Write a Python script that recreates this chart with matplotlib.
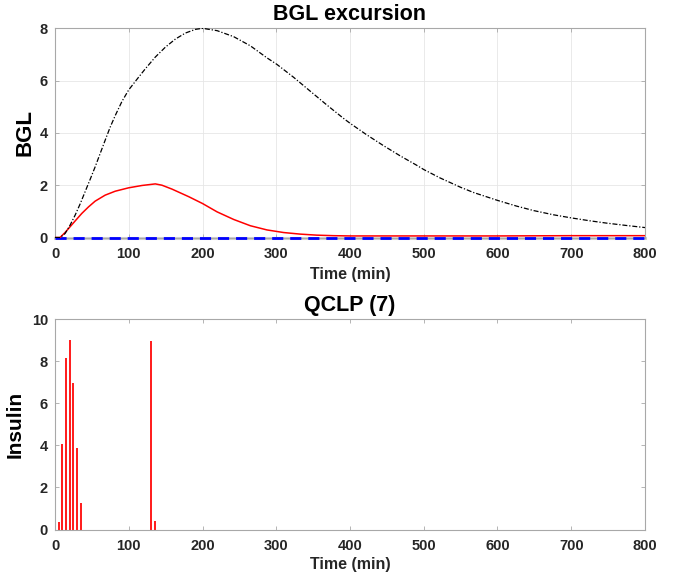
import matplotlib
matplotlib.use("Agg")
import matplotlib.pyplot as plt

# ---- data ----
t_black = [0, 6.8, 13.6, 20.4, 27.2, 34, 40.8, 44.4, 47.6, 54.4, 61.2, 68, 74.8,
           81.6, 90.7, 99.8, 112.5, 122.4, 136, 149.7, 163.3, 176.9, 190.5, 200,
           219.8, 242.3, 264.9, 287.4, 300.9, 323.4, 345.9, 368.5, 391, 400, 422.5,
           445, 467.6, 490, 500, 522, 550, 567.6, 600, 626, 649, 675.7, 700, 725, 748,
           774.8, 800]
bgl_black = [0.0, 0.0, 0.15, 0.47, 0.85, 1.28, 1.75, 2.0, 2.22, 2.70, 3.21, 3.72, 4.22,
             4.66, 5.20, 5.64, 6.10, 6.45, 6.90, 7.28, 7.59, 7.82, 7.96, 8.0,
             7.91, 7.68, 7.33, 6.87, 6.62, 6.13, 5.60, 5.07, 4.56, 4.37, 3.93,
             3.52, 3.13, 2.77, 2.60, 2.28, 1.92, 1.72, 1.42, 1.20, 1.03, 0.87, 0.75, 0.64,
             0.55, 0.46, 0.38]

t_red = [0, 6.8, 13.6, 20.4, 27.2, 36.3, 45.4, 54.4, 68, 81.6, 99.8, 118, 136, 145,
         158.7, 181.4, 200, 219.8, 242.3, 264.9, 287.4, 310, 332.4, 355, 377.5, 400,
         500, 600, 700, 800]
bgl_red = [0.0, 0.0, 0.19, 0.41, 0.63, 0.92, 1.17, 1.39, 1.62, 1.77, 1.90, 1.99, 2.05,
           2.00, 1.85, 1.56, 1.30, 0.98, 0.69, 0.45, 0.29, 0.19, 0.13, 0.09, 0.07, 0.06,
           0.06, 0.06, 0.07, 0.07]

t_target = [0, 800]
bgl_target = [0, 0]

t_insulin = [5, 10, 15, 20, 25, 30, 35, 130, 135]
insulin = [0.37, 4.05, 8.14, 9.01, 6.98, 3.90, 1.27, 8.98, 0.40]

xticks = [0, 100, 200, 300, 400, 500, 600, 700, 800]
yticks_top = [0, 2, 4, 6, 8]
yticks_bot = [0, 2, 4, 6, 8, 10]

# ---- style ----
plt.rcParams['font.family'] = ['Liberation Sans', 'DejaVu Sans']
plt.rcParams['font.weight'] = 'bold'
spine_col = '#a8a8a8'
tick_col = '#262626'

fig = plt.figure(figsize=(6.8, 5.73), dpi=100)
ax1 = fig.add_axes([0.0809, 0.5855, 0.8676, 0.3651])
ax2 = fig.add_axes([0.0809, 0.0759, 0.8676, 0.3669])


def style(ax, yt, ylim, grid):
    ax.set_xlim(0, 800)
    ax.set_ylim(*ylim)
    ax.set_xticks(xticks)
    ax.set_yticks(yt)
    ax.tick_params(direction='in', top=True, right=True, length=3, width=0.6,
                   color=spine_col, labelcolor=tick_col, labelsize=10.5)
    ax.tick_params(axis='x', pad=7)
    ax.tick_params(axis='y', pad=5)
    for lab in ax.get_xticklabels() + ax.get_yticklabels():
        lab.set_fontweight('bold')
    for s in ax.spines.values():
        s.set_color(spine_col)
        s.set_linewidth(0.8)
    if grid:
        ax.grid(True, color='#e6e6e6', linewidth=0.6)
        ax.set_axisbelow(True)


# Top panel
style(ax1, yticks_top, (0, 8), True)
ax1.plot(t_target, bgl_target, color='#d0d0d0', lw=2.2, zorder=2, clip_on=False)
ax1.plot(t_target, bgl_target, color='#0000ff', lw=2.0, ls=(0, (4, 2.5)), zorder=3,
         clip_on=False)
ax1.plot(t_red, bgl_red, color='red', lw=1.1, zorder=4)
ax1.plot(t_black, bgl_black, color='black', lw=0.9, ls=(0, (4, 1.5, 1, 1.5)), zorder=5)
ax1.set_title('BGL excursion', fontsize=15.5, fontweight='bold', pad=6)
ax1.set_ylabel('BGL', fontsize=16, fontweight='bold', labelpad=3)
ax1.set_xlabel('Time (min)', fontsize=11.5, fontweight='bold', color=tick_col, labelpad=4)

# Bottom panel
style(ax2, yticks_bot, (0, 10), False)
ax2.vlines(t_insulin, 0, insulin, color='#ff1a1a', lw=1.4)
ax2.set_title('QCLP (7)', fontsize=15.5, fontweight='bold', pad=6)
ax2.set_ylabel('Insulin', fontsize=15, fontweight='bold', labelpad=5)
ax2.set_xlabel('Time (min)', fontsize=11.5, fontweight='bold', color=tick_col, labelpad=3)

fig.savefig('out.png', dpi=100)
